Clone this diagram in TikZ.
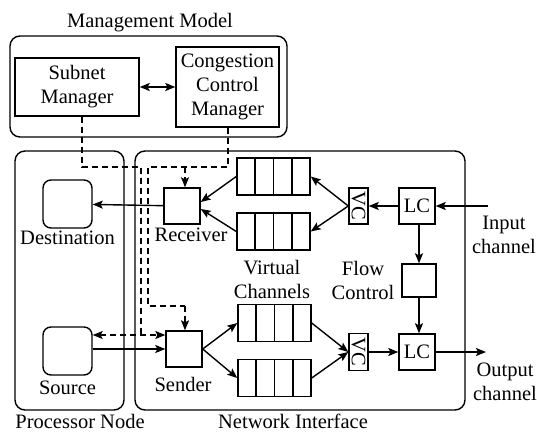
\documentclass[tikz,border=0pt]{standalone}
\usepackage{fontspec}
\setmainfont{Liberation Serif}
\usepackage{tikz}
\usetikzlibrary{arrows.meta}
\usetikzlibrary{calc}

\begin{document}
\begin{tikzpicture}[x=1pt,y=-1pt,
        font=\rmfamily\fontsize{20.5}{24}\selectfont,
        line width=1.4pt,
        >={Stealth[length=10pt,width=8pt,inset=2pt]},
        area/.style={draw,rounded corners=10pt,inner sep=0pt},
        unit/.style={draw,inner sep=0pt,align=center},
        ends/.style={draw,rounded corners=8pt,minimum width=49pt,minimum height=48pt},
        queue/.style={draw,inner sep=0pt,minimum width=73pt,minimum height=37pt},
        ctl/.style={dash pattern=on 6pt off 4pt,line width=1.1pt}]
        
        \useasboundingbox (0,0) rectangle (537,433);
        
        % management model
        \node[area,minimum width=277pt,minimum height=101pt] (mgmt) at (148.5,86.5) {};
        \node (mgmttxt) at (150,23) {Management Model};
        \node[unit,minimum width=124pt,minimum height=58pt] (subnet) at (77,87) {Subnet\\Manager};
        \node[unit,minimum width=103pt,minimum height=80pt] (ccm) at (227.5,87) {Congestion\\Control\\Manager};
        \draw[<->] (subnet) -- (ccm);
        
        % processor node and network interface
        \node[area,minimum width=109pt,minimum height=259pt] (proc) at (69.5,280.5) {};
        \node (proctxt) at (80,421) {Processor Node};
        \node[area,minimum width=330pt,minimum height=259pt] (netif) at (300,280.5) {};
        \node (netiftxt) at (293,421) {Network Interface};
        
        \node[ends] (dest) at (67.5,204) {};
        \node (desttxt) at (67.5,238) {Destination};
        \node[ends] (src) at (67.5,351) {};
        \node (srctxt) at (67.5,388) {Source};
        
        \node[unit,minimum size=36pt] (recv) at (182,206) {};
        \node (recvtxt) at (191,235) {Receiver};
        \node[unit,minimum size=36pt] (send) at (184,349) {};
        \node (sendtxt) at (183,384) {Sender};
        
        % virtual channel buffers
        \node[queue] (vq1) at (273.5,176.5) {};
        \node[queue] (vq2) at (273.5,231.5) {};
        \node[queue] (vq3) at (274.5,323) {};
        \node[queue] (vq4) at (274.5,378) {};
        \foreach \q in {vq1,vq2,vq3,vq4}
            \foreach \i in {1,2,3}
                \draw ($(\q.north west)!\i/4!(\q.north east)$) -- ($(\q.south west)!\i/4!(\q.south east)$);
        \node[align=center] (vqtxt) at (272,279) {Virtual\\Channels};
        
        \node[unit,minimum width=19pt,minimum height=36pt] (vcin) at (358.5,206) {\rotatebox{-90}{VC}};
        \node[unit,minimum width=19pt,minimum height=37pt] (vcout) at (358.5,352) {\rotatebox{-90}{VC}};
        \node[unit,minimum size=36pt] (lcin) at (417,206) {LC};
        \node[unit,minimum size=36pt] (lcout) at (417,352) {LC};
        \node[unit,minimum width=34pt,minimum height=33pt] (flow) at (419,280.5) {};
        \node[align=center] (flowtxt) at (363,280) {Flow\\Control};
        
        \coordinate (inch) at (488,206);
        \coordinate (outch) at (486,352);
        \node[align=center] (intxt) at (504,235) {Input\\channel};
        \node[align=center] (outtxt) at (505,382) {Output\\channel};
        
        % receive path
        \draw[->] (inch) -- (lcin);
        \draw[->] (lcin) -- (vcin);
        \draw[->] (vcin.west) -- (vq1.east);
        \draw[->] (vcin.west) -- (vq2.east);
        \draw[->] (vq1.west) -- ([yshift=4pt]recv.east);
        \draw[->] (vq2.west) -- ([yshift=-3pt]recv.east);
        \draw[->] (recv) -- (dest);
        
        % send path
        \draw[->] (src.east |- send) -- (send);
        \draw[->] (send.east) -- (vq3.west);
        \draw[->] (send.east) -- (vq4.west);
        \draw[->] (vq3.east) -- (vcout.west);
        \draw[->] (vq4.east) -- (vcout.west);
        \draw[->] (vcout) -- (lcout);
        \draw[->] (lcout) -- (outch);
        
        % flow control
        \draw[->] (flow.north |- lcin.south) -- (flow.north);
        \draw[->] (flow.south) -- (flow.south |- lcout.north);
        
        % control lines from the managers
        \draw[ctl] (subnet.south -| 82,0) |- (141,167) -- (141,335);
        \draw[ctl,<->] (src.east |- 0,335) -- (send.west |- 0,335);
        \draw[ctl] (ccm.south -| 228,0) |- (148,167) -- (148,306) -| (185,306);
        \draw[ctl,->] (185,306) -- (send.north -| 185,0);
        \draw[ctl,->] (185,167) -- (recv.north -| 185,0);
        
    \end{tikzpicture}
\end{document}
